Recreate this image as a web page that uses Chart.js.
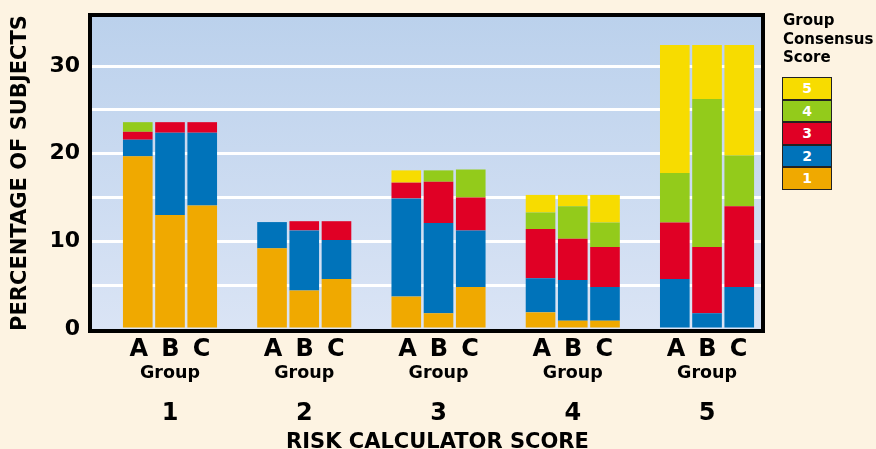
<!DOCTYPE html>
<html>
<head>
<meta charset="utf-8">
<script src="https://cdn.jsdelivr.net/npm/chart.js@4/dist/chart.umd.min.js"></script>
<style>
  html, body { margin: 0; padding: 0; background: #fdf3e2; }
  .wrap { position: relative; width: 876px; height: 449px; overflow: hidden; }
  canvas { display: block; }
  .legend { position: absolute; left: 783px; top: 11px; font-family: 'DejaVu Sans', sans-serif; }
  .legend-title { font-size: 15px; font-weight: bold; line-height: 18.5px; color: #000; }
  .legend-boxes { position: absolute; left: -1px; top: 66px; width: 50px; }
  .legend-box {
    box-sizing: border-box; height: 22.6px; border: 1px solid #222;
    color: #fff; font-weight: bold; font-size: 14px; text-align: center; line-height: 20px;
  }
</style>
</head>
<body>
<div class="wrap">
  <canvas id="chart" width="876" height="449"></canvas>
  <div class="legend">
    <div class="legend-title">Group<br>Consensus<br>Score</div>
    <div class="legend-boxes" id="legendBoxes"></div>
  </div>
</div>
<script>
const riskScores = [1, 2, 3, 4, 5]
const groups = ['A', 'B', 'C']
const consensusScores = ['1', '2', '3', '4', '5']
const consensusColors = ['#f0a900', '#0073ba', '#e00025', '#93cb1b', '#f7dc00']
const yLabels = [0, 10, 20, 30]

// rows = consensus score 1..5, columns = risk calculator score 1..5
const groupA = [
  [19.7, 9.2, 3.7, 1.9, 0],
  [1.9, 3.0, 11.2, 3.9, 5.7],
  [0.9, 0, 1.8, 5.6, 6.45],
  [1.1, 0, 0, 1.9, 5.65],
  [0, 0, 1.4, 2.0, 14.6],
]
const groupB = [
  [13.0, 4.4, 1.8, 0.95, 0],
  [9.4, 6.85, 10.3, 4.65, 1.8],
  [1.2, 1.05, 4.7, 4.7, 7.55],
  [0, 0, 1.3, 3.7, 16.9],
  [0, 0, 0, 1.3, 6.15],
]
const groupC = [
  [14.1, 5.7, 4.8, 0.95, 0],
  [8.3, 4.45, 6.45, 3.85, 4.8],
  [1.2, 2.15, 3.75, 4.55, 9.2],
  [0, 0, 3.2, 2.8, 5.8],
  [0, 0, 0, 3.15, 12.6],
]

const FONT = "'DejaVu Sans', sans-serif"
const groupData = { A: groupA, B: groupB, C: groupC }
// categories are not centred in the frame in the original
const X_MIN = 0.419
const X_MAX = 5.402

const datasets = []
groups.forEach((g) => {
  consensusScores.forEach((s, i) => {
    datasets.push({
      label: g + ' ' + s,
      stack: g,
      data: riskScores.map((r, j) => ({ x: r, y: groupData[g][i][j] })),
      backgroundColor: consensusColors[i],
      borderWidth: 0,
      categoryPercentage: 0.72,
      barPercentage: 0.92,
    })
  })
})

// legend boxes, score 5 on top
const legendBoxes = document.getElementById('legendBoxes')
for (let i = consensusScores.length - 1; i >= 0; i--) {
  const box = document.createElement('div')
  box.className = 'legend-box'
  box.style.background = consensusColors[i]
  box.textContent = consensusScores[i]
  legendBoxes.appendChild(box)
}

const plotBackground = {
  id: 'plotBackground',
  beforeDraw(chart) {
    const { ctx, chartArea: { left, top, width, height, bottom } } = chart
    const grad = ctx.createLinearGradient(0, top, 0, bottom)
    grad.addColorStop(0, '#bbd1ec')
    grad.addColorStop(1, '#dae4f5')
    ctx.save()
    ctx.fillStyle = grad
    ctx.fillRect(left, top, width, height)
    ctx.restore()
  },
}

const plotFrame = {
  id: 'plotFrame',
  afterDatasetsDraw(chart) {
    const { ctx, chartArea: { left, top, width, height } } = chart
    ctx.save()
    ctx.strokeStyle = '#000'
    ctx.lineWidth = 4
    ctx.strokeRect(left - 2, top - 2, width + 4, height + 4)
    ctx.restore()
  },
}

const bottomAxis = (extra) => Object.assign({
  type: 'linear',
  position: 'bottom',
  offset: false,
  bounds: 'data',
  min: X_MIN,
  max: X_MAX,
  grid: { display: false, drawTicks: false, offset: false },
  border: { display: false },
  afterBuildTicks: (s) => { s.ticks = riskScores.map((v) => ({ value: v })) },
}, extra)

new Chart(document.getElementById('chart'), {
  type: 'bar',
  data: { datasets: datasets },
  options: {
    responsive: false,
    animation: false,
    layout: { padding: { top: 17, right: 115, left: 0, bottom: 0 } },
    plugins: {
      legend: { display: false },
      tooltip: { enabled: false },
    },
    scales: {
      x: bottomAxis({
        stacked: true,
        weight: 0,
        ticks: {
          color: '#000',
          padding: 6,
          maxRotation: 0,
          autoSkip: false,
          font: { family: FONT, size: 24, weight: 'bold' },
          callback: () => groups.join(' \u2009'),
        },
        afterFit: (s) => { s.height = 34 },
      }),
      xGroup: bottomAxis({
        weight: 1,
        ticks: {
          color: '#000',
          padding: 0,
          maxRotation: 0,
          autoSkip: false,
          font: { family: FONT, size: 17.5, weight: 'bold' },
          callback: () => 'Group',
        },
        afterFit: (s) => { s.height = 26 },
      }),
      xScore: bottomAxis({
        weight: 2,
        ticks: {
          color: '#000',
          padding: 10,
          maxRotation: 0,
          autoSkip: false,
          font: { family: FONT, size: 24, weight: 'bold' },
          callback: (v) => String(v),
        },
        title: {
          display: true,
          text: '   RISK CALCULATOR SCORE',
          color: '#000',
          padding: 0,
          font: { family: FONT, size: 21, weight: 'bold', lineHeight: 0.6 },
        },
        afterFit: (s) => { s.height = 60 },
      }),
      y: {
        stacked: true,
        min: 0,
        max: 35.6,
        border: { display: false },
        grid: {
          drawTicks: false,
          lineWidth: 3,
          color: (c) => (c.tick && c.tick.value > 0 && c.tick.value <= 30 ? '#ffffff' : 'rgba(0,0,0,0)'),
        },
        ticks: {
          stepSize: 5,
          includeBounds: false,
          padding: 12,
          color: '#000',
          font: { family: FONT, size: 22, weight: 'bold' },
          callback: (v) => (yLabels.includes(v) ? String(v) : ''),
        },
        title: {
          display: true,
          text: 'PERCENTAGE OF SUBJECTS',
          color: '#000',
          padding: { top: 8, bottom: 0 },
          font: { family: FONT, size: 21, weight: 'bold' },
        },
        afterFit: (s) => {
          s.width = 92
          s.paddingTop = 0
          s.paddingBottom = 0
        },
      },
    },
  },
  plugins: [plotBackground, plotFrame],
})
</script>
</body>
</html>
